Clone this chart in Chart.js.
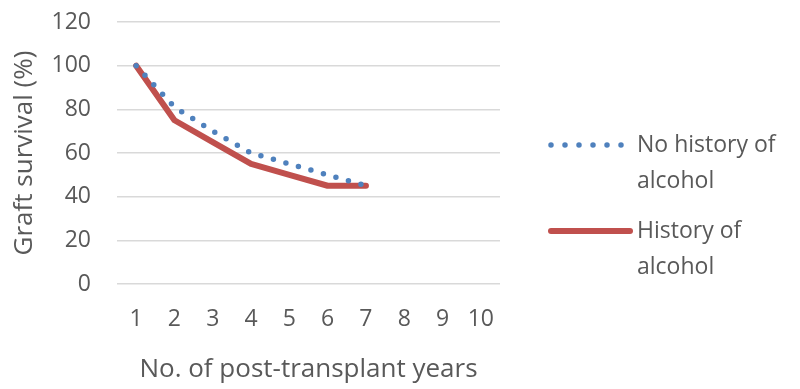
<!DOCTYPE html>
<html>
<head>
<meta charset="utf-8">
<script src="https://cdn.jsdelivr.net/npm/chart.js@4/dist/chart.umd.min.js"></script>
<style>
  html, body { margin: 0; padding: 0; background: #fff; }
  #wrap { width: 800px; height: 389px; }
</style>
</head>
<body>
<div id="wrap"><canvas id="c"></canvas></div>
<script>
const years = ['1', '2', '3', '4', '5', '6', '7', '8', '9', '10']
const noHistory = [100, 81, 70, 60, 55, 50, 45]
const withHistory = [100, 75, 65, 55, 50, 45, 45]
const legendLines = [['No history of', 'alcohol'], ['History of', 'alcohol']]

const blue = '#4F81BD'
const red = '#C0504D'
const textGrey = '#595959'
const font = '"Open Sans", Lato, sans-serif'
const plotTop = 22

// legend on the right, drawn by hand so the labels can wrap on two lines
const sideLegend = {
  id: 'sideLegend',
  afterDraw (chart) {
    const ctx = chart.ctx
    const rows = [{ y: 145, color: blue, dotted: true }, { y: 231, color: red, dotted: false }]
    ctx.save()
    rows.forEach((row, i) => {
      ctx.strokeStyle = row.color
      ctx.lineCap = 'round'
      ctx.beginPath()
      if (row.dotted) {
        ctx.lineWidth = 5.5
        ctx.setLineDash([0, 14])
        ctx.moveTo(551, row.y)
        ctx.lineTo(622, row.y)
      } else {
        ctx.lineWidth = 6
        ctx.setLineDash([])
        ctx.moveTo(551, row.y)
        ctx.lineTo(630, row.y)
      }
      ctx.stroke()
      ctx.setLineDash([])
      ctx.fillStyle = textGrey
      ctx.font = '23px ' + font
      ctx.textBaseline = 'middle'
      legendLines[i].forEach((t, j) => ctx.fillText(t, 637, row.y + j * 36))
    })
    ctx.restore()
  }
}

// pin the top of the plot area (layout kept leaving extra room above)
const pinTop = {
  id: 'pinTop',
  afterLayout (chart) {
    const area = chart.chartArea
    const y = chart.scales.y
    area.top = plotTop
    area.height = area.bottom - area.top
    y.top = plotTop
    y.height = y.bottom - y.top
    y.configure()
  }
}

new Chart(document.getElementById('c'), {
  type: 'line',
  data: {
    labels: years,
    datasets: [{
      label: 'No history of alcohol',
      data: noHistory,
      borderColor: blue,
      borderWidth: 5.5,
      borderDash: [0, 13],
      borderCapStyle: 'round',
      pointRadius: 0,
      tension: 0
    }, {
      label: 'History of alcohol',
      data: withHistory,
      borderColor: red,
      borderWidth: 6,
      borderCapStyle: 'round',
      borderJoinStyle: 'round',
      pointRadius: 0,
      tension: 0
    }]
  },
  options: {
    animation: false,
    responsive: true,
    maintainAspectRatio: false,
    layout: { autoPadding: false, padding: { left: 0, right: 300, top: plotTop, bottom: 0 } },
    plugins: {
      legend: { display: false },
      tooltip: { enabled: false }
    },
    scales: {
      x: {
        offset: true,
        afterFit: (s) => { s.height = 105 },
        grid: { display: false, drawTicks: false },
        border: { display: false },
        ticks: { color: textGrey, font: { family: font, size: 23 }, padding: 22 },
        title: { display: true, text: 'No. of post-transplant years', color: textGrey, font: { family: font, size: 26 }, padding: { bottom: 4 } }
      },
      y: {
        min: 0,
        max: 120,
        afterFit: (s) => { s.width = 117 },
        ticks: { stepSize: 20, color: textGrey, font: { family: font, size: 23 }, padding: 26 },
        grid: { color: '#D9D9D9', lineWidth: 1.5, drawTicks: false },
        border: { display: false },
        title: { display: true, text: 'Graft survival (%)', color: textGrey, font: { family: font, size: 26 }, padding: { top: 9 } }
      }
    }
  },
  plugins: [sideLegend, pinTop]
})
</script>
</body>
</html>
